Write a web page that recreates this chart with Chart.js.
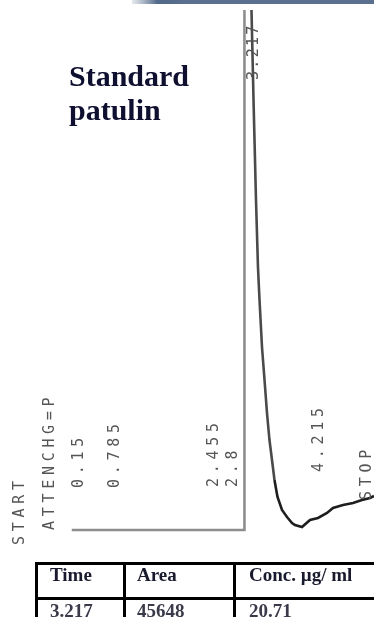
<!DOCTYPE html>
<html>
<head>
<meta charset="utf-8">
<script src="https://cdn.jsdelivr.net/npm/chart.js@4/dist/chart.umd.min.js"></script>
<style>
  html, body { margin: 0; padding: 0; background: #fff; overflow: hidden; }
  #wrap { position: relative; width: 374px; height: 617px; overflow: hidden; }
  #c { position: absolute; left: 0; top: 0; }
  #title { position: absolute; left: 69px; top: 59px; font: bold 30px "Liberation Serif", "Times New Roman", serif; line-height: 34px; color: #0f1030; }
  .tl { position: absolute; background: #000; }
  .tt { position: absolute; font: bold 19px "Liberation Serif", "Times New Roman", serif; line-height: 19px; white-space: nowrap; }
</style>
</head>
<body>
<div id="wrap">
  <canvas id="c" width="374" height="617"></canvas>
  <div id="title">Standard<br>patulin</div>
  <div id="table"></div>
</div>
<script>
// ---- data ----
const times  = [0, 3.14, 3.14, 3.268, 3.268, 3.305, 3.35, 3.386, 3.414, 3.459, 3.505, 3.55, 3.595, 3.641, 3.686, 3.741, 3.823, 3.914, 4.005, 4.059, 4.186, 4.332, 4.477, 4.641, 4.75, 4.932, 5.114, 5.277, 5.423, 5.495];
const signal = [0, 0, 640, 640, 520, 430, 330, 263, 230, 183, 150, 117, 90, 70, 50, 33, 20, 13, 7, 5, 3, 10, 12, 17, 22, 25, 27, 30, 32, 34];

// integrator annotations (text, position on time axis, position on signal axis)
const markerTexts  = ['START', 'ATTENCHG=P', '0.15', '0.785', '2.455', '2.8', '3.217', '4.215', 'STOP'];
const markerTimes  = [-0.941, -0.395, 0.132, 0.786, 2.586, 2.932, 3.314, 4.495, 5.368];
const markerLevels = [-15, 0, 42, 42, 43, 43, 450, 58, 30];

// results table
const tableHeaders = ['Time', 'Area', 'Conc. µg/ ml'];
const tableRow     = ['3.217', '45648', '20.71'];

// ---- table (HTML) ----
(function buildTable() {
  const t = document.getElementById('table');
  const textLeft = [50, 137, 249];
  const lines = [
    [35, 562, 345, 3], [35, 597, 345, 3],
    [35, 562, 3, 60], [123, 562, 3, 60], [233, 562, 3, 60]
  ];
  lines.forEach(l => {
    const d = document.createElement('div');
    d.className = 'tl';
    d.style.left = l[0] + 'px'; d.style.top = l[1] + 'px';
    d.style.width = l[2] + 'px'; d.style.height = l[3] + 'px';
    t.appendChild(d);
  });
  tableHeaders.forEach((h, i) => {
    const d = document.createElement('div');
    d.className = 'tt'; d.textContent = h;
    d.style.left = textLeft[i] + 'px'; d.style.top = '565px'; d.style.color = '#1a1a2e';
    t.appendChild(d);
  });
  tableRow.forEach((h, i) => {
    const d = document.createElement('div');
    d.className = 'tt'; d.textContent = h;
    d.style.left = textLeft[i] + 'px'; d.style.top = '601px'; d.style.color = '#3a3a4a';
    t.appendChild(d);
  });
})();

// ---- plugins ----
const topStrip = {
  id: 'topStrip',
  beforeDraw(chart) {
    const ctx = chart.ctx;
    ctx.save();
    const g = ctx.createLinearGradient(132, 0, 182, 0);
    g.addColorStop(0, 'rgba(90,110,140,0.15)');
    g.addColorStop(0.5, 'rgba(40,70,110,0.8)');
    g.addColorStop(1, '#5b6f8e');
    ctx.fillStyle = g;
    ctx.fillRect(132, 0, 50, 4);
    ctx.fillStyle = '#5b6f8e';
    ctx.fillRect(182, 0, 192, 4);
    ctx.restore();
  }
};

const markers = {
  id: 'markers',
  afterDatasetsDraw(chart) {
    const ctx = chart.ctx;
    const xs = chart.scales.x, ys = chart.scales.y;
    ctx.save();
    ctx.fillStyle = '#555';
    ctx.font = '15px "DejaVu Sans Mono", monospace';
    ctx.textAlign = 'left';
    ctx.textBaseline = 'middle';
    markerTexts.forEach((txt, i) => {
      const x = xs.getPixelForValue(markerTimes[i]);
      const y = ys.getPixelForValue(markerLevels[i]);
      ctx.save();
      ctx.letterSpacing = (txt === '3.217') ? '2.3px' : '4.7px';
      ctx.translate(x, y);
      ctx.rotate(-Math.PI / 2);
      ctx.fillText(txt, 0, 0);
      ctx.restore();
    });
    ctx.restore();
  }
};

new Chart(document.getElementById('c'), {
  type: 'scatter',
  data: {
    datasets: [{
      data: times.map((t, i) => ({ x: t, y: signal[i] })),
      showLine: true,
      borderWidth: 2.6,
      pointRadius: 0,
      tension: 0,
      clip: 0,
      borderColor: '#555',
      segment: {
        borderColor: c => c.p0DataIndex >= 14 ? '#1e1e1e' : (c.p0DataIndex >= 3 ? '#4a4a4a' : '#8e8e8e')
      }
    }]
  },
  options: {
    responsive: false,
    devicePixelRatio: 1,
    animation: false,
    layout: { padding: { top: 10, left: 0, right: 0, bottom: 0 } },
    plugins: { legend: { display: false }, tooltip: { enabled: false }, title: { display: false } },
    scales: {
      x: { type: 'linear', display: false, min: -1.3045, max: 5.4955 },
      y: { type: 'linear', display: false, min: -87, max: 520 }
    }
  },
  plugins: [topStrip, markers]
});
</script>
</body>
</html>
